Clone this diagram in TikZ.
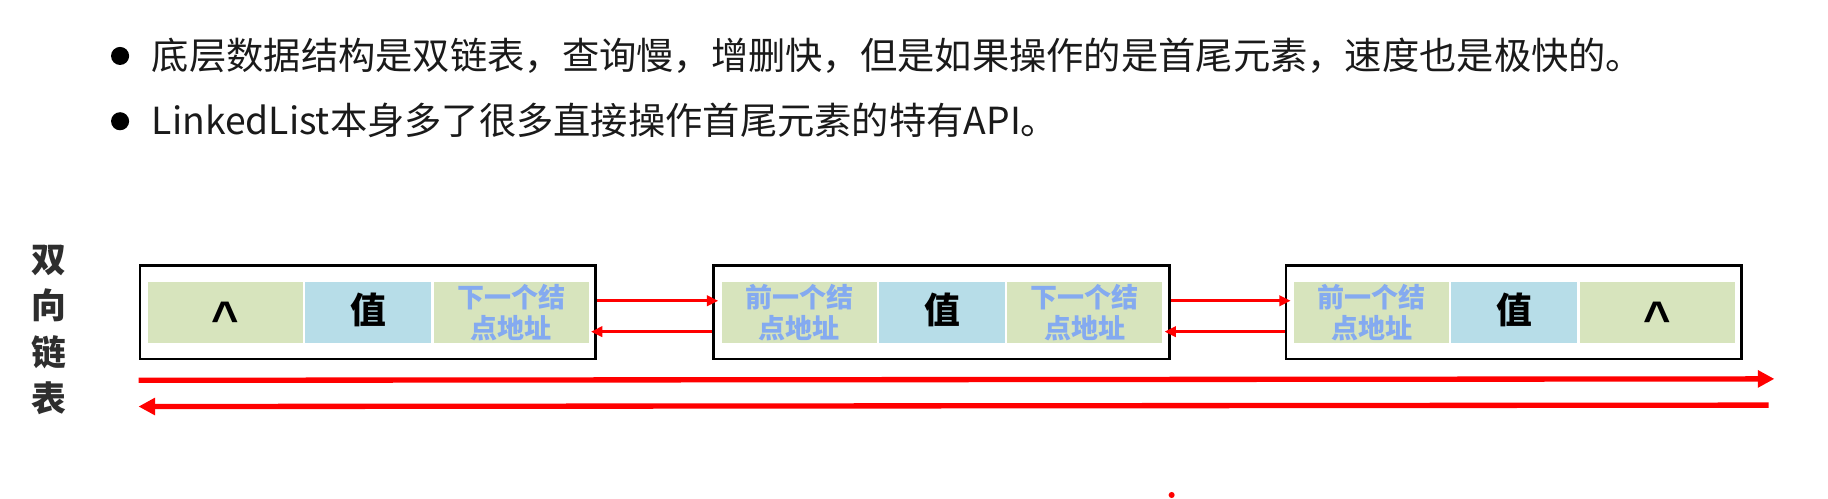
\documentclass[tikz,border=0pt]{standalone}
\usepackage{fontspec}
\newfontfamily\cjk{Noto Sans CJK SC}
\newfontfamily\arialb{Liberation Sans}
\usetikzlibrary{arrows.meta}
\definecolor{cellg}{HTML}{D7E4BD}
\definecolor{cellb}{HTML}{B7DDE8}
\definecolor{addr}{RGB}{132,170,240}
\definecolor{txt}{HTML}{1A1A1A}
\definecolor{lbl}{HTML}{2E2E2E}
\tikzset{
  nodebox/.style={draw=black, line width=1.4pt, fill=white, minimum width=7.82cm, minimum height=1.6cm, inner sep=0pt},
  gcell/.style={fill=cellg, minimum height=1.04cm, minimum width=2.66cm, inner sep=0pt, align=center},
  bcell/.style={fill=cellb, minimum height=1.04cm, minimum width=2.16cm, inner sep=0pt, align=center},
  addrtxt/.style={font=\cjk\bfseries\fontsize{13.2pt}{15.4pt}\selectfont, text=addr},
  valtxt/.style={font=\cjk\bfseries\fontsize{17.5pt}{20pt}\selectfont, text=black, text height=15pt, text depth=4pt},
  nulltxt/.style={font=\arialb\bfseries\fontsize{23pt}{26pt}\selectfont, text=black, text height=21.8pt, text depth=0pt},
  bullettxt/.style={font=\cjk\fontsize{18.2pt}{20pt}\selectfont, text=txt, anchor=base west, inner sep=0pt},
  link/.style={draw=red, line width=1.6pt, shorten >=-3pt, -{Triangle[length=5.5pt,width=5pt]}},
  track/.style={draw=red, line width=2.6pt, -{Triangle[length=8.1pt,width=8.1pt]}},
}
\begin{document}
\begin{tikzpicture}[x=0.02cm,y=-0.02cm]
\useasboundingbox[fill=white] (0,0) rectangle (1568,428);

% bullets and text
\fill[black] (103,48) circle (0.155cm);
\fill[black] (103,104) circle (0.155cm);
\node[bullettxt] (t1) at (130,59.8) {底层数据结构是双链表，查询慢，增删快，但是如果操作的是首尾元素，速度也是极快的。};
\node[bullettxt] (t2) at (130,115.8) {LinkedList本身多了很多直接操作首尾元素的特有API。};

% side label
\node[font=\cjk\bfseries\fontsize{17pt}{22.5pt}\selectfont, text=lbl, align=center, inner sep=0pt] (lab) at (42,283) {双\\向\\链\\表};

% boxes
\node[nodebox] (b1) at (315.5,268) {};
\node[nodebox] (b2) at (807.5,268) {};
\node[nodebox] (b3) at (1298.5,268) {};

% cells box 1
\node[gcell, nulltxt] (c11) at (193.5,268) {\^{}};
\node[bcell, valtxt] (c12) at (316,268) {值};
\node[gcell, addrtxt] (c13) at (438.5,268) {下一个结\\点地址};
% cells box 2
\node[gcell, addrtxt] (c21) at (685.5,268) {前一个结\\点地址};
\node[bcell, valtxt] (c22) at (808,268) {值};
\node[gcell, addrtxt] (c23) at (930.5,268) {下一个结\\点地址};
% cells box 3
\node[gcell, addrtxt] (c31) at (1176.5,268) {前一个结\\点地址};
\node[bcell, valtxt] (c32) at (1299,268) {值};
\node[gcell, nulltxt] (c33) at (1421.5,268) {\^{}};

% links
\draw[link] ([yshift=0.2cm]b1.east) -- ([yshift=0.2cm]b2.west);
\draw[link] ([yshift=-0.33cm]b2.west) -- ([yshift=-0.33cm]b1.east);
\draw[link] ([yshift=0.2cm]b2.east) -- ([yshift=0.2cm]b3.west);
\draw[link] ([yshift=-0.33cm]b3.west) -- ([yshift=-0.33cm]b2.east);

% long arrows
\coordinate (fwdend) at (1522,325);
\coordinate (bwdstart) at (1517,347.5);
\draw[track] ([yshift=-0.34cm]b1.south west) -- (fwdend);
\draw[track] (bwdstart) -- ([yshift=-0.79cm]b1.south west);

% pointer dot
\fill[red] (1005,424.6) circle (0.052cm);
\end{tikzpicture}
\end{document}
